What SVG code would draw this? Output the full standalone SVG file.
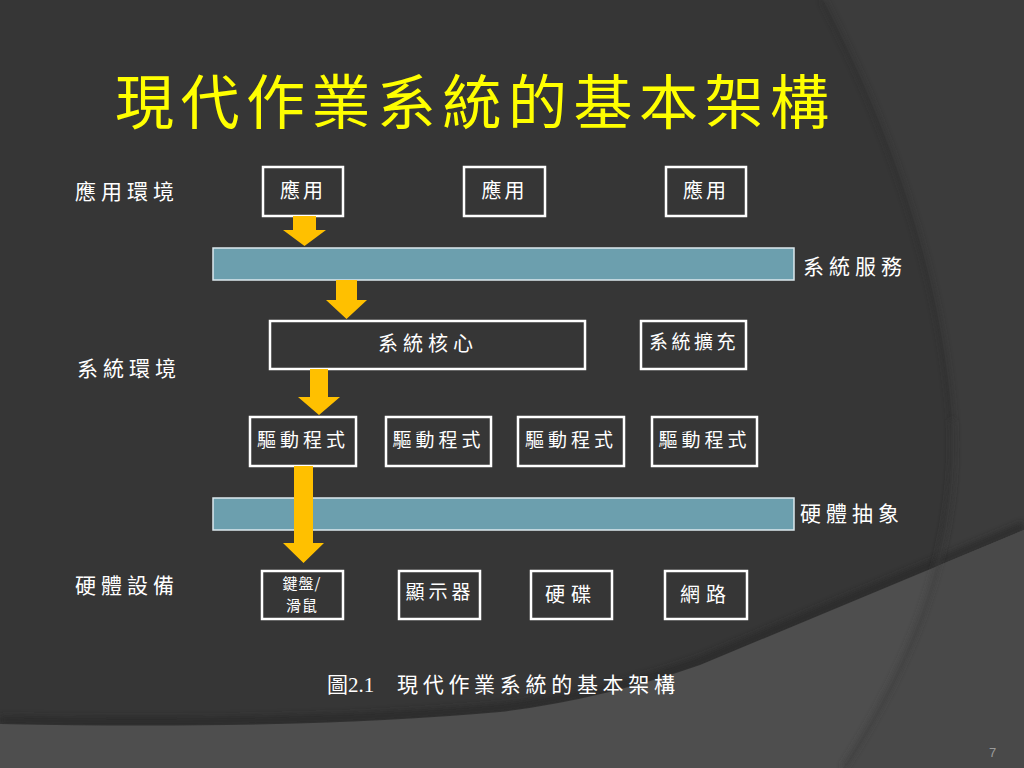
<svg xmlns="http://www.w3.org/2000/svg" width="1024" height="768" viewBox="0 0 1024 768">
<defs>
<style>
.bx{fill:none;stroke:#ffffff;stroke-width:2.5}
.bar{fill:#6c9fae;stroke:#dce9ee;stroke-width:1.5}
.arr{fill:#ffc000}
.t{fill:#ffffff;font-family:"Noto Sans CJK TC","Noto Sans CJK SC",sans-serif}
.lb{fill:#ffffff;font-family:"Noto Sans CJK TC","Noto Sans CJK SC",sans-serif;font-size:21px;letter-spacing:5px}
</style>
<filter id="blur" x="-10%" y="-10%" width="120%" height="120%"><feGaussianBlur stdDeviation="3"/></filter>
<clipPath id="rightClip"><path d="M823,0 C880,110 940,260 952,420 C960,560 900,680 843,768 L1024,768 L1024,0 Z"/></clipPath>
</defs>
<g id="background">
<rect x="0" y="0" width="1024" height="768" fill="#363636"/>
<path d="M823,0 C880,110 940,260 952,420 C960,560 900,680 843,768 L1024,768 L1024,0 Z" fill="#3c3c3c"/>
<path d="M823,0 C880,110 940,260 952,420 C960,560 900,680 843,768" fill="none" stroke="#2c2c2c" stroke-width="4" opacity="0.6" filter="url(#blur)"/>
<path d="M0,720 Q300,726 500,708 Q600,696 700,661 L1024,526" fill="none" stroke="#262626" stroke-width="8" opacity="0.7" filter="url(#blur)"/>
<path d="M0,724 Q300,730 500,712 Q600,700 700,665 L1024,530 L1024,768 L0,768 Z" fill="#4e4e4e"/>
<path d="M0,724 Q300,730 500,712 Q600,700 700,665 L1024,530 L1024,768 L0,768 Z" fill="#494949" clip-path="url(#rightClip)"/>
<path d="M952,420 C960,560 900,680 843,768" fill="none" stroke="#3a3a3a" stroke-width="3" filter="url(#blur)"/>
</g>
<g id="title">
<text x="115" y="124" fill="#ffff00" font-family="Noto Sans CJK TC, Noto Sans CJK SC, sans-serif" font-size="59" letter-spacing="6.5">現代作業系統的基本架構</text>
</g>
<g id="labels">
<text class="lb" x="75" y="199">應用環境</text>
<text class="lb" x="77" y="376">系統環境</text>
<text class="lb" x="75" y="593">硬體設備</text>
<text class="lb" x="803" y="274">系統服務</text>
<text class="lb" x="800" y="521">硬體抽象</text>
</g>
<g id="bar-services"><rect class="bar" x="213" y="248" width="581" height="32"/></g>
<g id="bar-hal"><rect class="bar" x="213" y="498" width="581" height="32"/></g>
<g id="app1"><rect class="bx" x="263" y="167" width="80" height="49"/><text class="t" x="303" y="198" text-anchor="middle" font-size="20" letter-spacing="3">應用</text></g>
<g id="app2"><rect class="bx" x="464" y="167" width="81" height="49"/><text class="t" x="504.5" y="198" text-anchor="middle" font-size="20" letter-spacing="3">應用</text></g>
<g id="app3"><rect class="bx" x="666" y="167" width="80" height="49"/><text class="t" x="706" y="198" text-anchor="middle" font-size="20" letter-spacing="3">應用</text></g>
<g id="kernel"><rect class="bx" x="270" y="321" width="315" height="48"/><text class="t" x="428" y="351" text-anchor="middle" font-size="20" letter-spacing="5">系統核心</text></g>
<g id="ext"><rect class="bx" x="641" y="321" width="105" height="48"/><text class="t" x="694" y="349" text-anchor="middle" font-size="19" letter-spacing="3.5">系統擴充</text></g>
<g id="drv1"><rect class="bx" x="250" y="417" width="106" height="49"/><text class="t" x="303" y="447" text-anchor="middle" font-size="19" letter-spacing="4">驅動程式</text></g>
<g id="drv2"><rect class="bx" x="386" y="417" width="105" height="49"/><text class="t" x="438.5" y="447" text-anchor="middle" font-size="19" letter-spacing="4">驅動程式</text></g>
<g id="drv3"><rect class="bx" x="518" y="417" width="106" height="49"/><text class="t" x="571" y="447" text-anchor="middle" font-size="19" letter-spacing="4">驅動程式</text></g>
<g id="drv4"><rect class="bx" x="652" y="417" width="105" height="49"/><text class="t" x="704.5" y="447" text-anchor="middle" font-size="19" letter-spacing="4">驅動程式</text></g>
<g id="kbd"><rect class="bx" x="262" y="571" width="81" height="48"/><text class="t" x="302" y="589" text-anchor="middle" font-size="15" letter-spacing="1">鍵盤/</text><text class="t" x="302" y="611" text-anchor="middle" font-size="15" letter-spacing="1">滑鼠</text></g>
<g id="disp"><rect class="bx" x="399" y="571" width="81" height="48"/><text class="t" x="440" y="599" text-anchor="middle" font-size="19" letter-spacing="4">顯示器</text></g>
<g id="disk"><rect class="bx" x="531" y="571" width="81" height="48"/><text class="t" x="571" y="602" text-anchor="middle" font-size="20" letter-spacing="6">硬碟</text></g>
<g id="net"><rect class="bx" x="665" y="571" width="82" height="48"/><text class="t" x="706" y="602" text-anchor="middle" font-size="20" letter-spacing="6">網路</text></g>
<g id="connectors">
<polygon class="arr" points="293,216 316,216 316,230 326,230 304.5,246 283,230 293,230"/>
<polygon class="arr" points="336,280 357,280 357,300 367,300 346.5,319 326,300 336,300"/>
<polygon class="arr" points="310,369 328,369 328,397 340,397 319,415 298,397 310,397"/>
<polygon class="arr" points="294,466 313,466 313,543 324,543 303.5,563 283,543 294,543"/>
</g>
<g id="caption">
<text x="327" y="692" fill="#ffffff" font-family="Liberation Serif, Noto Sans CJK TC, serif" font-size="21"><tspan>圖2.1</tspan><tspan x="397" letter-spacing="4.7" font-family="Noto Sans CJK TC, Noto Sans CJK SC, sans-serif">現代作業系統的基本架構</tspan></text>
</g>
<g id="page-number">
<text x="989" y="757" fill="#9a9a9a" font-family="Liberation Sans, sans-serif" font-size="13">7</text>
</g>
</svg>
